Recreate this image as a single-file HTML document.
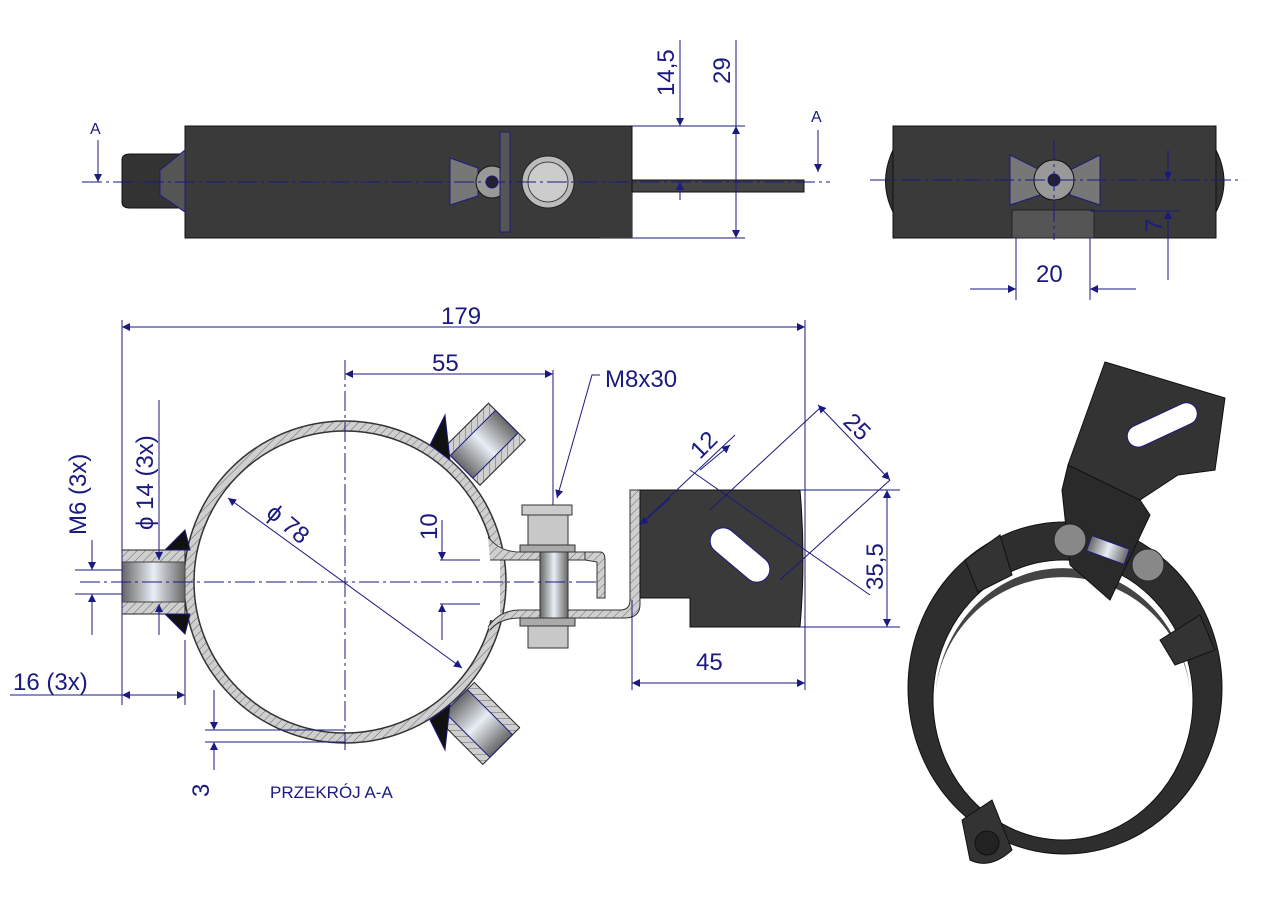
<!DOCTYPE html>
<html><head><meta charset="utf-8"><style>
html,body{margin:0;padding:0;background:#fff}
svg{display:block}
text{font-family:"Liberation Sans",sans-serif;fill:#1a1a80}
</style></head><body>
<svg width="1280" height="905" viewBox="0 0 1280 905" xmlns="http://www.w3.org/2000/svg">
<defs>
<marker id="ar" viewBox="0 0 10 10" refX="10" refY="5" markerWidth="14" markerHeight="8" orient="auto-start-reverse" markerUnits="userSpaceOnUse"><path d="M0,0 L10,5 L0,10 z" fill="#1a1a80"/></marker>
<pattern id="hat" width="6" height="6" patternUnits="userSpaceOnUse" patternTransform="rotate(45)"><rect width="6" height="6" fill="#cfcfcf"/><line x1="0" y1="0" x2="0" y2="6" stroke="#666" stroke-width="1"/></pattern>
<linearGradient id="thr" x1="0" y1="0" x2="1" y2="0"><stop offset="0" stop-color="#666"/><stop offset=".5" stop-color="#e8eef5"/><stop offset="1" stop-color="#666"/></linearGradient>
</defs>
<g stroke="#1a1a80" stroke-width="1" fill="none">
<!-- top view -->
<rect x="185" y="126" width="447" height="112" fill="#3a3a3a" stroke="#111"/>
<path d="M122,160 Q122,154 130,154 L185,154 L185,208 L130,208 Q122,208 122,202z" fill="#333" stroke="#111"/>
<path d="M160,170 L185,150 L185,212 L160,195z" fill="#555"/>
<path d="M450,158 L478,168 L478,196 L450,205z" fill="#777"/>
<circle cx="492" cy="182" r="16" fill="#999" stroke="#111"/><circle cx="492" cy="182" r="6" fill="#222"/>
<rect x="500" y="132" width="10" height="100" fill="#555"/>
<circle cx="548" cy="182" r="26" fill="#bbb" stroke="#222"/><circle cx="548" cy="182" r="20" fill="#ccc" stroke="#444"/>
<rect x="600" y="180" width="32" height="58" fill="#3a3a3a" stroke="none"/>
<rect x="632" y="180" width="172" height="12" fill="#444" stroke="#111"/>
<line x1="82" y1="182" x2="830" y2="182" stroke-dasharray="20 4 3 4"/>
<line x1="98" y1="140" x2="98" y2="182" marker-end="url(#ar)"/>
<line x1="818" y1="130" x2="818" y2="172" marker-end="url(#ar)"/>
<line x1="632" y1="126" x2="745" y2="126"/><line x1="632" y1="238" x2="745" y2="238"/>
<line x1="680" y1="40" x2="680" y2="126" marker-end="url(#ar)"/><line x1="680" y1="182" x2="680" y2="200" marker-start="url(#ar)"/>
<line x1="736" y1="40" x2="736" y2="126"/><line x1="736" y1="126" x2="736" y2="238" marker-start="url(#ar)" marker-end="url(#ar)"/>
<!-- right top view -->
<rect x="893" y="126" width="323" height="112" fill="#3a3a3a" stroke="#111"/>
<path d="M893,150 Q878,182 893,212z" fill="#333" stroke="#111"/><path d="M1216,150 Q1232,182 1216,212z" fill="#333" stroke="#111"/>
<path d="M1010,155 L1040,170 L1040,195 L1010,205z M1100,155 L1070,170 L1070,195 L1100,205z" fill="#777"/>
<circle cx="1054" cy="180" r="20" fill="#999" stroke="#111"/><circle cx="1054" cy="180" r="6" fill="#222"/>
<rect x="1012" y="210" width="82" height="28" fill="#555" stroke="#222"/>
<line x1="870" y1="180" x2="1240" y2="180" stroke-dasharray="20 4 3 4"/>
<line x1="1054" y1="140" x2="1054" y2="240" stroke-dasharray="20 4 3 4"/>
<line x1="1090" y1="211" x2="1180" y2="211"/>
<line x1="1168" y1="150" x2="1168" y2="180" marker-end="url(#ar)"/><line x1="1168" y1="211" x2="1168" y2="280" marker-start="url(#ar)"/>
<line x1="1016" y1="238" x2="1016" y2="300"/><line x1="1090" y1="238" x2="1090" y2="300"/>
<line x1="970" y1="289" x2="1016" y2="289" marker-end="url(#ar)"/><line x1="1090" y1="289" x2="1136" y2="289" marker-start="url(#ar)"/>
<!-- section -->
<circle cx="345" cy="582" r="156" fill="none" stroke="url(#hat)" stroke-width="10"/>
<circle cx="345" cy="582" r="161" stroke="#333" stroke-width="1.5"/>
<circle cx="345" cy="582" r="151" stroke="#333" stroke-width="1.5"/>
<rect x="480" y="545" width="20" height="75" fill="#fff" stroke="none"/>
<path d="M488,537 Q500,552 520,552 L600,552 L600,560 L520,560 Q500,560 490,560" fill="url(#hat)" stroke="#333"/>
<path d="M488,627 Q500,610 520,610 L620,610 Q630,610 630,600 L630,490 L640,490 L640,604 Q640,618 625,618 L520,618 Q500,618 490,630" fill="url(#hat)" stroke="#333"/>
<path d="M585,552 L600,552 Q605,552 605,560 L605,598 L597,598 L597,562 L585,560z" fill="url(#hat)" stroke="#333"/>
<path d="M640,490 L800,490 Q806,558 800,627 L690,627 L690,598 L640,598z" fill="#3a3a3a" stroke="#111"/>
<rect x="705" y="520" width="70" height="26" rx="13" fill="#fff" transform="rotate(40 740 555) translate(0 22)"/>
<rect x="122" y="550" width="63" height="64" fill="url(#hat)" stroke="#222"/>
<rect x="122" y="562" width="63" height="40" fill="url(#thr)" stroke="#444"/>
<path d="M165,550 L185,530 L190,550z M165,614 L185,634 L190,614z" fill="#111"/>
<g transform="rotate(-45 480 440)"><rect x="448" y="420" width="64" height="52" fill="url(#hat)" stroke="#222"/><rect x="448" y="430" width="64" height="32" fill="url(#thr)"/></g>
<g transform="rotate(45 480 722)"><rect x="448" y="698" width="64" height="52" fill="url(#hat)" stroke="#222"/><rect x="448" y="708" width="64" height="32" fill="url(#thr)"/></g>
<path d="M430,445 L445,415 L450,460z M430,720 L445,750 L450,705z" fill="#111"/>
<rect x="522" y="505" width="50" height="10" fill="#ccc" stroke="#333"/>
<rect x="528" y="515" width="40" height="30" fill="#c8c8c8" stroke="#333"/>
<rect x="520" y="545" width="55" height="7" fill="#aaa" stroke="#333"/>
<rect x="540" y="552" width="28" height="66" fill="url(#thr)" stroke="#333"/>
<rect x="520" y="618" width="55" height="8" fill="#aaa" stroke="#333"/>
<rect x="528" y="626" width="40" height="22" fill="#c8c8c8" stroke="#333"/>
<line x1="80" y1="582" x2="600" y2="582" stroke-dasharray="20 4 3 4"/>
<line x1="345" y1="360" x2="345" y2="750" stroke-dasharray="20 4 3 4"/>
<line x1="122" y1="320" x2="122" y2="705"/><line x1="805" y1="320" x2="805" y2="690"/>
<line x1="122" y1="327" x2="805" y2="327" marker-start="url(#ar)" marker-end="url(#ar)"/>
<line x1="553" y1="370" x2="553" y2="505"/>
<line x1="345" y1="374" x2="553" y2="374" marker-start="url(#ar)" marker-end="url(#ar)"/>
<path d="M600,375 L592,375 L557,498" marker-end="url(#ar)"/>
<line x1="228" y1="498" x2="462" y2="668" marker-start="url(#ar)" marker-end="url(#ar)"/>
<line x1="440" y1="560" x2="480" y2="560"/><line x1="440" y1="604" x2="480" y2="604"/>
<line x1="442" y1="520" x2="442" y2="560" marker-end="url(#ar)"/><line x1="442" y1="604" x2="442" y2="640" marker-start="url(#ar)"/>
<line x1="75" y1="570" x2="122" y2="570"/><line x1="75" y1="594" x2="122" y2="594"/>
<line x1="92" y1="540" x2="92" y2="570" marker-end="url(#ar)"/><line x1="92" y1="594" x2="92" y2="635" marker-start="url(#ar)"/>
<line x1="159" y1="400" x2="159" y2="560" marker-end="url(#ar)"/><line x1="159" y1="604" x2="159" y2="635" marker-start="url(#ar)"/>
<line x1="185" y1="640" x2="185" y2="705"/>
<line x1="10" y1="695" x2="122" y2="695"/><line x1="122" y1="695" x2="185" y2="695" marker-start="url(#ar)" marker-end="url(#ar)"/>
<line x1="205" y1="730" x2="345" y2="730"/><line x1="205" y1="742" x2="345" y2="742"/>
<line x1="214" y1="690" x2="214" y2="730" marker-end="url(#ar)"/><line x1="214" y1="742" x2="214" y2="770" marker-start="url(#ar)"/>
<line x1="800" y1="490" x2="900" y2="490"/><line x1="800" y1="627" x2="900" y2="627"/>
<line x1="887" y1="490" x2="887" y2="627" marker-start="url(#ar)" marker-end="url(#ar)"/>
<line x1="632" y1="600" x2="632" y2="690"/>
<line x1="632" y1="683" x2="805" y2="683" marker-start="url(#ar)" marker-end="url(#ar)"/>
<line x1="690" y1="470" x2="870" y2="595"/>
<line x1="645" y1="520" x2="735" y2="435"/><line x1="700" y1="470" x2="730" y2="445" marker-end="url(#ar)"/>
<line x1="640" y1="525" x2="670" y2="498" marker-start="url(#ar)"/>
<line x1="780" y1="580" x2="890" y2="480"/>
<line x1="818" y1="405" x2="890" y2="480" marker-start="url(#ar)" marker-end="url(#ar)"/>
<line x1="820" y1="408" x2="710" y2="510"/>
<!-- iso -->
<ellipse cx="1065" cy="688" rx="157" ry="166" fill="#2e2e2e" stroke="#111"/>
<ellipse cx="1063" cy="700" rx="130" ry="140" fill="#fff" stroke="#111"/>
<path d="M935,700 A128,138 0 0 1 1190,690 A128,128 0 0 0 935,700z" fill="#444" stroke="none"/>
<path d="M1105,362 L1225,398 L1215,470 L1178,475 L1140,500 L1075,470 L1068,465z" fill="#333" stroke="#111"/>
<path d="M1068,465 L1140,500 L1150,515 L1110,600 L1070,565 L1062,490z" fill="#2a2a2a" stroke="#111"/>
<rect x="1125" y="415" width="75" height="22" rx="11" fill="#fff" transform="rotate(-25 1160 426)"/>
<circle cx="1070" cy="540" r="16" fill="#888" stroke="#222"/><circle cx="1148" cy="565" r="16" fill="#888" stroke="#222"/>
<rect x="1088" y="542" width="40" height="16" fill="url(#thr)" transform="rotate(20 1108 550)"/>
<path d="M965,560 L1000,535 L1012,575 L978,592z M1160,640 L1200,615 L1215,650 L1175,665z M962,820 L992,800 L1012,850 Q990,870 970,860z" fill="#333" stroke="#111"/>
<circle cx="987" cy="843" r="12" fill="#222" stroke="#111"/>
</g>
<g font-size="24">
<text x="441" y="324">179</text>
<text x="432" y="371">55</text>
<text x="605" y="387">M8x30</text>
<text x="696" y="670">45</text>
<text x="1036" y="282">20</text>
<text x="270" y="798" font-family="Liberation Serif" font-size="17">PRZEKRÓJ A-A</text>
<text x="13" y="690">16  (3x)</text>
<text x="90" y="134" font-family="Liberation Serif" font-size="16">A</text>
<text x="811" y="122" font-family="Liberation Serif" font-size="16">A</text>
<text transform="translate(674,96) rotate(-90)">14,5</text>
<text transform="translate(730,84) rotate(-90)">29</text>
<text transform="translate(1162,232) rotate(-90)">7</text>
<text transform="translate(883,590) rotate(-90)">35,5</text>
<text transform="translate(437,540) rotate(-90)">10</text>
<text transform="translate(86,535) rotate(-90)">M6  (3x)</text>
<text transform="translate(153,530) rotate(-90)">ϕ 14  (3x)</text>
<text transform="translate(209,797) rotate(-90)">3</text>
<text transform="translate(265,515) rotate(40)">ϕ 78</text>
<text transform="translate(700,460) rotate(-45)">12</text>
<text transform="translate(842,423) rotate(45)">25</text>
</g>
</svg>
</body></html>
